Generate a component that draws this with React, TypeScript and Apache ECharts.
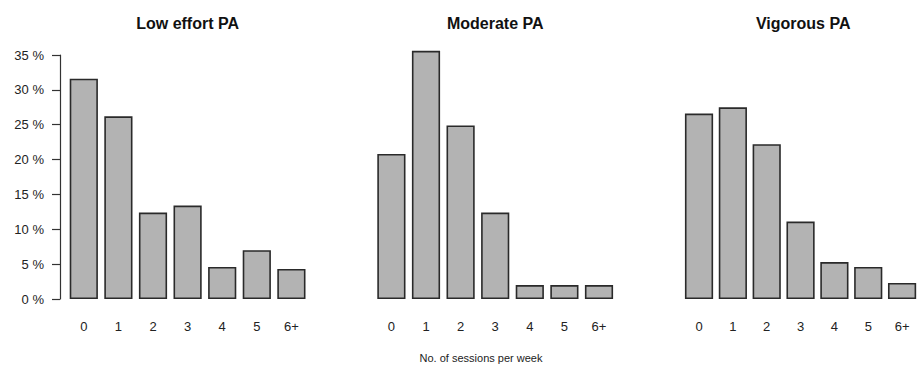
import React, { useEffect, useRef } from "react";
import * as echarts from "echarts";

const categories = ["0", "1", "2", "3", "4", "5", "6+"];
const panelTitles = ["Low effort PA", "Moderate PA", "Vigorous PA"];
const lowEffort = [31.6, 26.2, 12.4, 13.4, 4.6, 7.0, 4.3];
const moderate = [20.8, 35.6, 24.9, 12.4, 2.0, 2.0, 2.0];
const vigorous = [26.6, 27.5, 22.2, 11.1, 5.3, 4.6, 2.3];
const yTicks = [0, 5, 10, 15, 20, 25, 30, 35];
const xAxisTitle = "No. of sessions per week";

const FONT = "'Liberation Sans', Arial, Helvetica, sans-serif";
const TEXT = "#222";

export default function App() {
  const ref = useRef<HTMLDivElement>(null);
  useEffect(() => {
    if (!ref.current) return;
    const chart = echarts.init(ref.current, undefined, { renderer: "svg" });
    const seriesData = [lowEffort, moderate, vigorous];
    const gridLefts = [66.5, 374.1, 682.1];
    const pitch = 34.6;
    const gridWidth = pitch * categories.length;
    const grids = gridLefts.map((l) => ({ left: l, top: 55, width: gridWidth, height: 244 }));
    const xAxes = gridLefts.map((_, i) => ({
      type: "category",
      gridIndex: i,
      data: categories,
      boundaryGap: true,
      axisLine: { show: false },
      axisTick: { show: false },
      axisLabel: { color: TEXT, fontSize: 13, fontFamily: FONT, margin: 21 },
    }));
    const yAxes = gridLefts.map((_, i) => ({
      type: "value",
      gridIndex: i,
      min: yTicks[0],
      max: yTicks[yTicks.length - 1],
      interval: 5,
      show: i === 0,
      offset: 6.5,
      splitLine: { show: false },
      axisLine: { show: true, lineStyle: { color: "#333", width: 1.2 } },
      axisTick: { show: true, length: 8, inside: false, lineStyle: { color: "#333", width: 1.2 } },
      axisLabel: {
        color: TEXT,
        fontSize: 13,
        fontFamily: FONT,
        margin: 16,
        formatter: (v: number) => `${v} %`,
      },
    }));
    const series = seriesData.map((d, i) => ({
      type: "bar",
      xAxisIndex: i,
      yAxisIndex: i,
      data: d,
      barWidth: 28.2,
      clip: false,
      itemStyle: { color: "#b3b3b3", borderColor: "#2a2a2a", borderWidth: 1.6 },
    }));
    const centers = gridLefts.map((l) => l + gridWidth / 2);
    const graphics: any[] = panelTitles.map((t, i) => ({
      type: "text",
      x: centers[i],
      y: 23,
      style: {
        text: t,
        align: "center",
        verticalAlign: "middle",
        font: `bold 16px ${FONT}`,
        fill: "#111",
      },
    }));
    graphics.push({
      type: "text",
      x: 481,
      y: 358,
      style: {
        text: xAxisTitle,
        align: "center",
        verticalAlign: "middle",
        font: `11px ${FONT}`,
        fill: TEXT,
      },
    });
    chart.setOption({
      animation: false,
      backgroundColor: "#fff",
      grid: grids,
      xAxis: xAxes,
      yAxis: yAxes,
      series,
      graphic: graphics,
    });
    return () => chart.dispose();
  }, []);
  return (
    <div
      ref={ref}
      style={{ position: "absolute", left: 0, top: 0, width: 919, height: 366 }}
    />
  );
}
